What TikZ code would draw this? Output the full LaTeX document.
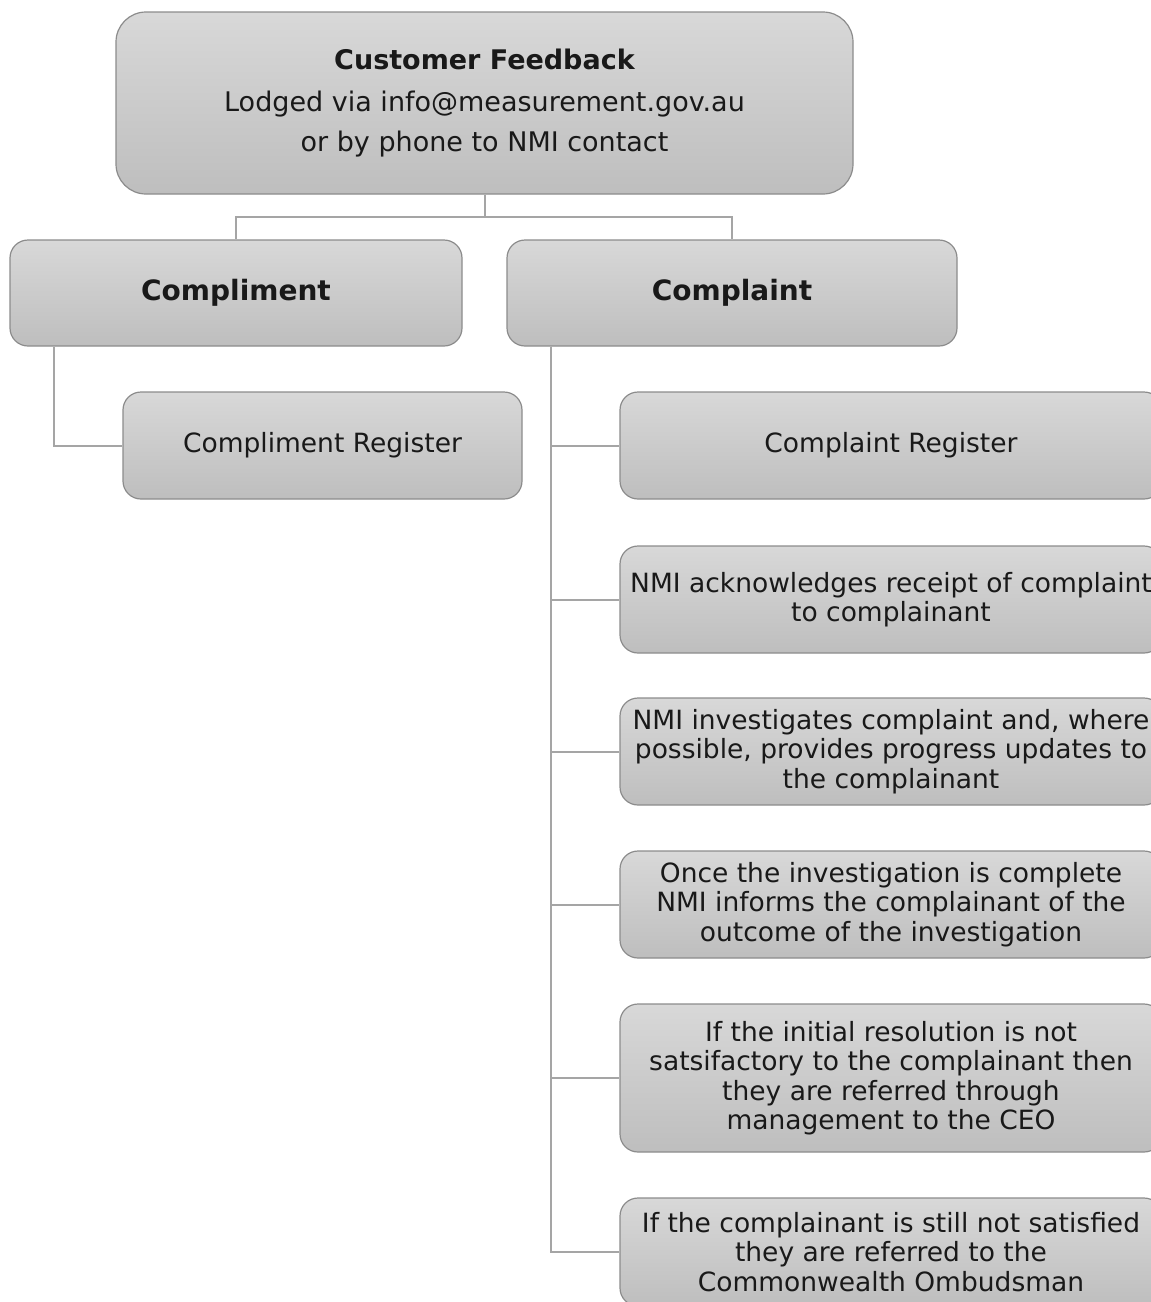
\documentclass[tikz,border=0pt]{standalone}
\usepackage{fontspec}
\setmainfont{DejaVu Sans}

\definecolor{boxtop}{RGB}{216,216,216}
\definecolor{boxbot}{RGB}{190,190,190}
\definecolor{boxline}{RGB}{140,140,140}
\definecolor{linkgray}{RGB}{165,165,165}

\tikzset{
    fbox/.style={draw=boxline, line width=0.6pt, top color=boxtop, bottom color=boxbot,
        rounded corners=9pt, align=center, inner sep=0pt, text=black!90,
        font=\fontsize{13.25}{14.75}\selectfont},
    headbox/.style={fbox, font=\bfseries\fontsize{14}{16}\selectfont},
    link/.style={draw=linkgray, line width=1pt},
}

\begin{document}
\begin{tikzpicture}[x=0.5pt,y=-0.5pt]
            \useasboundingbox (0,0) rectangle (1151,1302);

            \node[fbox, rounded corners=15pt, minimum width=368.5pt, minimum height=91pt,
                font=\fontsize{13.5}{20}\selectfont] (feedback) at (484.5,103)
                {{\bfseries Customer Feedback}\\[1pt]
                 Lodged via info@measurement.gov.au\\
                 or by phone to NMI contact};

            \node[headbox, minimum width=226pt, minimum height=53pt] (compliment) at (236,293) {Compliment};
            \node[headbox, minimum width=225pt, minimum height=53pt] (complaint) at (732,293) {Complaint};

            \node[fbox, minimum width=199.5pt, minimum height=53.5pt] (cmreg) at (322.5,445.5) {Compliment Register};

            \foreach \nm/\yy/\hh/\txt in {
                creg/445.5/53.5pt/{Complaint Register},
                ack/599.5/53.5pt/{NMI acknowledges receipt of complaint\\to complainant},
                inv/751.5/53.5pt/{NMI investigates complaint and, where\\possible, provides progress updates to\\the complainant},
                outc/904.5/53.5pt/{Once the investigation is complete\\NMI informs the complainant of the\\outcome of the investigation},
                ceo/1078/74pt/{If the initial resolution is not\\satsifactory to the complainant then\\they are referred through\\management to the CEO},
                omb/1252/54pt/{If the complainant is still not satisfied\\they are referred to the\\Commonwealth Ombudsman}} {
                \node[fbox, minimum width=271pt, minimum height=\hh] (\nm) at (891,\yy) {\txt};
            }

            \draw[link] (feedback.south) -- ++(0,22) -| (compliment.north);
            \draw[link] (feedback.south) -- ++(0,22) -| (complaint.north);
            \draw[link] ([xshift=22.5pt]compliment.south west) |- (cmreg.west);

            \foreach \nm in {creg,ack,inv,outc,ceo,omb} {
                \draw[link] ([xshift=22.5pt]complaint.south west) |- (\nm.west);
            }
        \end{tikzpicture}
\end{document}
